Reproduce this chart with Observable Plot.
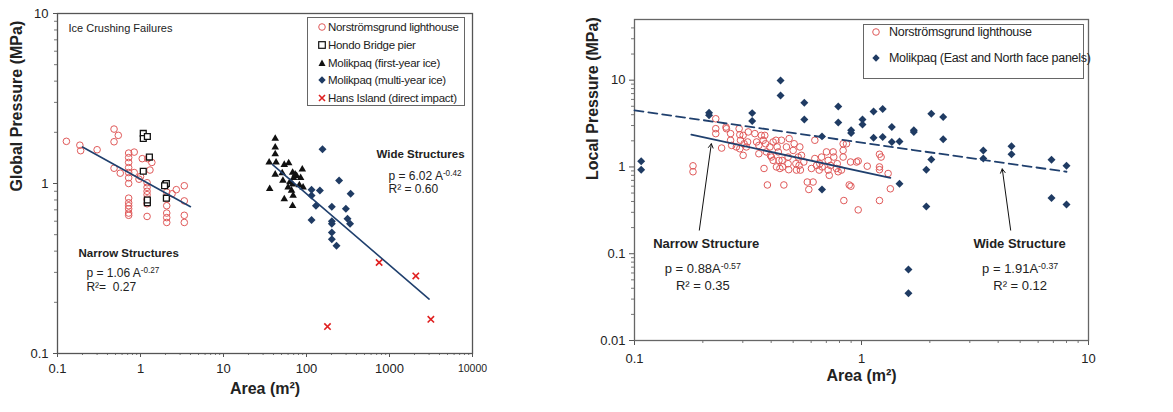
<!DOCTYPE html>
<html><head><meta charset="utf-8">
<script src="https://cdn.jsdelivr.net/npm/d3@7"></script>
<script src="https://cdn.jsdelivr.net/npm/@observablehq/plot@0.6"></script>
<style>
body{margin:0;background:#fff;font-family:"Liberation Sans",Arial,sans-serif;}
#wrap{position:relative;width:1173px;height:412px;overflow:hidden;}
#left{position:absolute;left:0;top:0;}
#right{position:absolute;left:580px;top:0;width:593px;height:412px;overflow:hidden;}
.legend{position:absolute;border:1px solid #666;background:#fff;box-sizing:border-box;}
.row{position:absolute;left:0;white-space:nowrap;color:#222;}
.row svg{position:absolute;top:0;}
.row span{position:absolute;top:0;}
</style></head><body>
<div id="wrap"><div id="left"></div><div id="right"></div></div>
<script>
// ---------- LEFT CHART DATA (Area m², Global Pressure MPa) ----------
const leftSeriesNames = ["Norströmsgrund lighthouse","Hondo Bridge pier","Molikpaq (first-year ice)","Molikpaq (multi-year ice)","Hans Island (direct impact)"];
const norstromGlobal = [
  [0.128,1.77],[0.186,1.68],[0.19,1.56],[0.30,1.58],
  [0.48,2.09],[0.54,1.92],[0.48,1.76],[0.48,1.23],[0.57,1.15],
  [0.72,1.51],[0.72,1.42],[0.72,1.33],[0.72,1.24],[0.72,1.16],[0.72,1.08],[0.72,1.0],
  [0.72,0.82],[0.72,0.77],[0.72,0.74],[0.72,0.71],[0.72,0.67],[0.72,0.65],
  [0.84,1.53],[0.84,1.16],[0.96,1.06],[1.05,1.40],[1.22,1.40],[1.37,1.33],[1.30,1.20],[1.0,1.1],
  [1.2,1.01],[1.2,0.95],[1.2,0.90],[1.2,0.86],[1.2,0.81],[1.2,0.76],[1.2,0.64],
  [2.07,0.89],[2.07,0.81],[2.07,0.74],[2.07,0.67],[2.07,0.63],[2.07,0.59],
  [2.4,0.87],[2.7,0.92],[3.37,0.97],[3.37,0.79],[3.37,0.65],[3.37,0.59]
];
const hondoGlobal = [
  [1.08,1.97],[1.08,1.84],[1.21,1.89],[1.28,1.43],[1.08,1.18],[1.21,0.77],[1.21,0.80],
  [2.0,0.99],[2.05,1.0],[1.95,0.97],[2.05,0.82]
];
const molikpaqFYGlobal = [
  [42,1.84],[42,1.63],[42,1.49],[35.5,1.33],[43,1.33],[54,1.29],[61,1.32],[42,1.13],
  [51,1.15],[36,0.93],[52,1.04],[54,0.81],[63,1.02],[68,1.16],[70,1.08],[73,1.13],
  [76,1.11],[89,1.21],[85,1.08],[68,0.99],[66,0.91],[68,0.74],[69,0.85],[60,0.95],
  [82,0.98],[91,0.95]
];
const molikpaqMYGlobal = [
  [156,1.59],[115,0.92],[115,0.85],[145,0.91],[130,0.74],[115,0.61],[202,0.73],
  [202,0.60],[202,0.58],[202,0.515],[202,0.47],[230,0.43],[247,1.04],[298,0.71],
  [312,0.62],[340,0.87],[335,0.58]
];
const hansGlobal = [[750,0.343],[2075,0.286],[179,0.144],[3150,0.159]];
const narrowGlobalFit = [[0.2,1.64],[4.0,0.73]];
const wideGlobalFit = [[39,1.29],[3000,0.209]];
const leftXTicks = [0.1,1,10,100,1000];
const leftXTickLabels = ["0.1","1","10","100","1000"];
const leftXLastTick = [10000];
const leftXLastTickLabel = ["10000"];
const leftYTicks = [0.1,1,10];
const leftYTickLabels = ["0.1","1","10"];
const leftHeadings = [
  {a:697, p:1.48, t:"Wide Structures"},
  {a:0.179, p:0.387, t:"Narrow Structures"}
];
const leftFormulas = [
  {a:973, p:1.11, t:"p = 6.02 A^-0.42"},
  {a:973, p:0.92, t:"R² = 0.60"},
  {a:0.223, p:0.296, t:"p = 1.06 A^-0.27"},
  {a:0.223, p:0.244, t:"R²=  0.27"}
];

// ---------- RIGHT CHART DATA (Area m², Local Pressure MPa) ----------
const rightSeriesNames = ["Norströmsgrund lighthouse","Molikpaq (East and North face panels)"];
const norstromLocal = [
  [0.181,1.03],[0.181,0.88],
  [0.228,3.59],[0.228,2.76],[0.228,2.42],[0.242,1.65],
  [0.253,2.88],[0.254,2.76],[0.265,2.42],[0.265,2.03],[0.268,1.77],[0.281,1.70],
  [0.289,2.76],[0.291,2.35],[0.293,2.03],[0.291,1.62],
  [0.301,2.31],[0.304,1.85],[0.301,1.36],[0.311,1.70],[0.315,1.94],[0.317,2.53],
  [0.339,2.42],[0.345,1.94],[0.353,1.77],[0.353,1.42],[0.362,2.31],[0.369,2.03],
  [0.375,2.31],[0.378,1.85],[0.381,1.49],[0.372,0.96],[0.385,0.62],
  [0.395,1.70],[0.397,1.36],[0.401,1.30],[0.408,1.94],[0.408,1.19],
  [0.420,2.03],[0.422,1.00],[0.425,1.70],[0.430,1.49],[0.433,1.19],[0.437,0.96],
  [0.444,2.03],[0.447,1.19],[0.449,1.00],[0.455,0.62],
  [0.467,1.70],[0.475,1.30],[0.475,1.09],[0.478,0.93],[0.480,2.12],
  [0.500,1.55],[0.505,1.85],[0.514,1.09],[0.517,0.92],[0.526,1.30],[0.531,1.04],
  [0.535,1.70],[0.538,0.92],[0.544,1.36],[0.557,1.14],[0.577,0.67],[0.586,0.55],
  [0.602,0.96],[0.612,0.67],[0.623,2.03],[0.623,1.25],[0.634,1.04],
  [0.651,0.92],[0.655,1.09],[0.667,1.30],[0.671,1.00],
  [0.701,1.49],[0.713,1.19],[0.713,0.92],[0.721,0.80],[0.730,1.04],
  [0.750,1.49],[0.755,1.30],[0.776,0.96],[0.782,1.09],[0.789,0.88],[0.816,0.92],
  [0.830,1.85],[0.830,1.55],[0.830,1.30],[0.836,0.41],[0.859,1.85],
  [0.883,0.62],[0.898,0.60],[0.895,1.14],[0.951,1.14],[0.967,1.17],[0.967,0.32],
  [1.06,1.02],[1.20,1.40],[1.20,1.00],[1.20,0.93],[1.20,0.41],[1.22,1.30],
  [1.31,0.84],[1.34,0.56]
];
const molikpaqLocal = [
  [0.107,1.16],[0.107,0.93],[0.213,4.21],[0.213,3.93],[0.33,4.17],[0.33,3.38],
  [0.44,9.9],[0.44,6.66],[0.56,5.5],[0.56,3.53],[0.67,2.25],[0.67,0.55],
  [0.79,4.98],[0.79,3.26],[0.90,2.64],[0.90,2.46],[1.01,3.53],[1.01,3.09],
  [1.13,4.36],[1.13,2.17],[1.24,4.64],[1.24,2.21],[1.36,2.88],[1.36,1.94],
  [1.47,1.97],[1.47,0.64],[1.61,0.066],[1.61,0.035],[1.70,2.64],[1.70,2.52],
  [1.93,0.93],[1.93,0.35],[2.03,4.1],[2.03,1.22],[2.29,3.76],[2.29,2.08],
  [3.44,1.55],[3.44,1.25],[4.58,1.73],[4.58,1.40],[6.87,1.21],[6.87,0.44],
  [8.0,1.03],[8.0,0.37]
];
const narrowLocalFit = [[0.178,2.35],[1.34,0.75]];
const wideLocalFit = [[0.1,4.48],[8.0,0.88]];
const localArrows = [
  {a1:0.193, p1:0.187, a2:0.218, p2:1.85},
  {a1:4.54, p1:0.187, a2:4.17, p2:0.95}
];
const rightXTicks = [0.1,1,10];
const rightXTickLabels = ["0.1","1","10"];
const rightYTicks = [0.01,0.1,1,10];
const rightYTickLabels = ["0.01","0.1","1","10"];
const rightHeadings = [
  {a:0.207, p:0.130, t:"Narrow Structure"},
  {a:4.97, p:0.130, t:"Wide Structure"}
];
const rightFormulas = [
  {a:0.200, p:0.067, t:"p = 0.88A^-0.57"},
  {a:0.200, p:0.043, t:"R² = 0.35"},
  {a:5.00, p:0.067, t:"p = 1.91A^-0.37"},
  {a:5.00, p:0.043, t:"R² = 0.12"}
];

// ---------- helpers ----------
const FONT = "'Liberation Sans', Arial, sans-serif";
const RED = "#e05a5a", NAVY = "#1f3b63", LINE = "#20406e";
function minorTicks(lo, hi){
  const out=[];
  for(let e=Math.floor(Math.log10(lo)); e<Math.ceil(Math.log10(hi)); e++)
    for(let k=2;k<=9;k++){const v=k*Math.pow(10,e); if(v>lo*1.0001 && v<hi*0.9999) out.push(v);}
  return out;
}
const lab = (ticks, labels) => { const m=new Map(ticks.map((t,i)=>[t,labels[i]])); return d=>m.get(d); };
const pts = arr => arr.map(([a,p])=>({a,p}));
function supify(svg){
  d3.select(svg).selectAll("text").each(function(){
    const t=this.textContent; if(!t.includes("^")) return;
    const [base,sup]=t.split("^");
    const s=d3.select(this); s.text(null);
    s.append("tspan").text(base);
    s.append("tspan").attr("dy","-0.5em").attr("font-size","0.68em").text(sup);
  });
}

// ---------- LEFT PLOT ----------
const leftPlot = Plot.plot({
  width: 580, height: 412,
  marginLeft: 57, marginRight: 108, marginTop: 13, marginBottom: 59,
  x: {type:"log", domain:[0.1,10000], axis:null},
  y: {type:"log", domain:[0.1,10], axis:null},
  style: {fontFamily: FONT, background:"#fff", overflow:"visible"},
  marks: [
    Plot.axisX({ticks: minorTicks(0.1,10000), tickSize:2, tickFormat:()=> "", stroke:"#777", label:null}),
    Plot.axisY({ticks: minorTicks(0.1,10), tickSize:3, tickFormat:()=> "", stroke:"#777", label:null}),
    Plot.axisX({ticks: leftXTicks, tickSize:4, tickPadding:6, tickFormat: lab(leftXTicks,leftXTickLabels), fontSize:13, fill:"#222", stroke:"#555", label:null}),
    Plot.axisX({ticks: leftXLastTick, tickSize:4, tickPadding:7, tickFormat: lab(leftXLastTick,leftXLastTickLabel), fontSize:10.5, fill:"#222", stroke:"#555", label:null}),
    Plot.axisY({ticks: leftYTicks, tickSize:4, tickPadding:5, tickFormat: lab(leftYTicks,leftYTickLabels), fontSize:13, fill:"#222", stroke:"#555", label:null}),
    Plot.frame({stroke:"#555", strokeWidth:1.3}),
    Plot.text(["Ice Crushing Failures"], {frameAnchor:"top-left", dx:11, dy:11, textAnchor:"start", fontSize:11, fill:"#222"}),
    Plot.dot(pts(norstromGlobal), {x:"a", y:"p", r:3.3, stroke:RED, fill:"none", strokeWidth:1}),
    Plot.dot(pts(hondoGlobal), {x:"a", y:"p", symbol:"square", r:3.3, stroke:"#111", fill:"#fff", strokeWidth:1.3}),
    Plot.dot(pts(molikpaqFYGlobal), {x:"a", y:"p", symbol:"triangle", r:2.8, fill:"#111", stroke:"none"}),
    Plot.dot(pts(molikpaqMYGlobal), {x:"a", y:"p", symbol:"diamond2", r:3.6, fill:NAVY, stroke:"none"}),
    Plot.dot(pts(hansGlobal), {x:"a", y:"p", symbol:"times", r:3, stroke:"#e02020", strokeWidth:1.6}),
    Plot.line(pts(narrowGlobalFit), {x:"a", y:"p", stroke:LINE, strokeWidth:1.6}),
    Plot.line(pts(wideGlobalFit), {x:"a", y:"p", stroke:LINE, strokeWidth:1.6}),
    Plot.text(leftHeadings, {x:"a", y:"p", text:"t", textAnchor:"start", fontSize:11.5, fontWeight:"bold", fill:"#222"}),
    Plot.text(leftFormulas, {x:"a", y:"p", text:"t", textAnchor:"start", fontSize:12, fill:"#222"}),
    Plot.text(["Global Pressure (MPa)"], {frameAnchor:"left", dx:-41, dy:8, rotate:-90, fontSize:16, fontWeight:"bold", fill:"#222"}),
    Plot.text(["Area (m²)"], {frameAnchor:"bottom", dy:40, fontSize:16, fontWeight:"bold", fill:"#222"})
  ]
});
supify(leftPlot);
document.getElementById("left").append(leftPlot);

// ---------- RIGHT PLOT ----------
const rightPlot = Plot.plot({
  width: 593, height: 412,
  marginLeft: 54, marginRight: 85, marginTop: 19, marginBottom: 72,
  x: {type:"log", domain:[0.1,10], axis:null},
  y: {type:"log", domain:[0.01,50], axis:null},
  style: {fontFamily: FONT, background:"#fff"},
  marks: [
    Plot.axisX({ticks: minorTicks(0.1,10), tickSize:3, tickFormat:()=> "", stroke:"#777", label:null}),
    Plot.axisY({ticks: minorTicks(0.01,50), tickSize:3, tickFormat:()=> "", stroke:"#777", label:null}),
    Plot.axisX({ticks: rightXTicks, tickSize:5, tickPadding:8, tickFormat: lab(rightXTicks,rightXTickLabels), fontSize:13, fill:"#222", stroke:"#555", label:null}),
    Plot.axisY({ticks: rightYTicks, tickSize:5, tickPadding:4, tickFormat: lab(rightYTicks,rightYTickLabels), fontSize:13, fill:"#222", stroke:"#555", label:null}),
    Plot.frame({stroke:"#666", strokeWidth:1.3}),
    Plot.dot(pts(norstromLocal), {x:"a", y:"p", r:3.3, stroke:RED, fill:"none", strokeWidth:1}),
    Plot.dot(pts(molikpaqLocal), {x:"a", y:"p", symbol:"diamond2", r:3.6, fill:NAVY, stroke:"none"}),
    Plot.line(pts(narrowLocalFit), {x:"a", y:"p", stroke:LINE, strokeWidth:1.8}),
    Plot.line(pts(wideLocalFit), {x:"a", y:"p", stroke:LINE, strokeWidth:1.8, strokeDasharray:"9,5"}),
    Plot.arrow(localArrows, {x1:"a1", y1:"p1", x2:"a2", y2:"p2", stroke:"#111", strokeWidth:1, headLength:7}),
    Plot.text(rightHeadings, {x:"a", y:"p", text:"t", textAnchor:"middle", fontSize:13, fontWeight:"bold", fill:"#222"}),
    Plot.text(rightFormulas, {x:"a", y:"p", text:"t", textAnchor:"middle", fontSize:13, fill:"#222"}),
    Plot.text(["Local Pressure (MPa)"], {frameAnchor:"left", dx:-42, rotate:-90, fontSize:16, fontWeight:"bold", fill:"#222"}),
    Plot.text(["Area (m²)"], {frameAnchor:"bottom", dy:40, fontSize:16, fontWeight:"bold", fill:"#222"})
  ]
});
supify(rightPlot);
document.getElementById("right").append(rightPlot);

// ---------- LEGENDS ----------
function glyph(kind, color){
  const s = d3.create("svg").attr("width",10).attr("height",10);
  if(kind==="circle") s.append("circle").attr("cx",5).attr("cy",5).attr("r",3.3).attr("fill","none").attr("stroke",color);
  if(kind==="square") s.append("rect").attr("x",1.7).attr("y",1.7).attr("width",6.6).attr("height",6.6).attr("fill","#fff").attr("stroke",color).attr("stroke-width",1.2);
  if(kind==="triangle") s.append("path").attr("d","M5,1.5L8.5,8H1.5Z").attr("fill",color);
  if(kind==="diamond") s.append("path").attr("d","M5,1.3L8.7,5L5,8.7L1.3,5Z").attr("fill",color);
  if(kind==="times") s.append("path").attr("d","M2,2L8,8M8,2L2,8").attr("stroke",color).attr("stroke-width",1.6);
  return s.node();
}
function legend(box, rows, names, kinds, colors, fontSize, textX, glyphX){
  const wrap = document.getElementById("wrap");
  const div = document.createElement("div");
  div.className="legend";
  Object.assign(div.style,{left:box[0]+"px",top:box[1]+"px",width:box[2]+"px",height:box[3]+"px"});
  names.forEach((n,i)=>{
    const r=document.createElement("div"); r.className="row";
    r.style.top=(rows[i]-box[1]-8)+"px"; r.style.height="16px";
    const g=glyph(kinds[i],colors[i]); g.style.left=(glyphX-box[0]-5)+"px"; g.style.top="3px";
    const sp=document.createElement("span"); sp.textContent=n;
    Object.assign(sp.style,{left:(textX-box[0])+"px",fontSize:fontSize+"px",lineHeight:"16px",letterSpacing:"-0.3px"});
    r.append(g,sp); div.append(r);
  });
  wrap.append(div);
}
legend([307,17,158,89],[26,44,61.5,79,97],leftSeriesNames,
  ["circle","square","triangle","diamond","times"],[RED,"#111","#111",NAVY,"#e02020"],11.5,327,321);
legend([863,24,221,55],[31,57],rightSeriesNames,["circle","diamond"],[RED,NAVY],12.5,888,875);
</script>
</body></html>
